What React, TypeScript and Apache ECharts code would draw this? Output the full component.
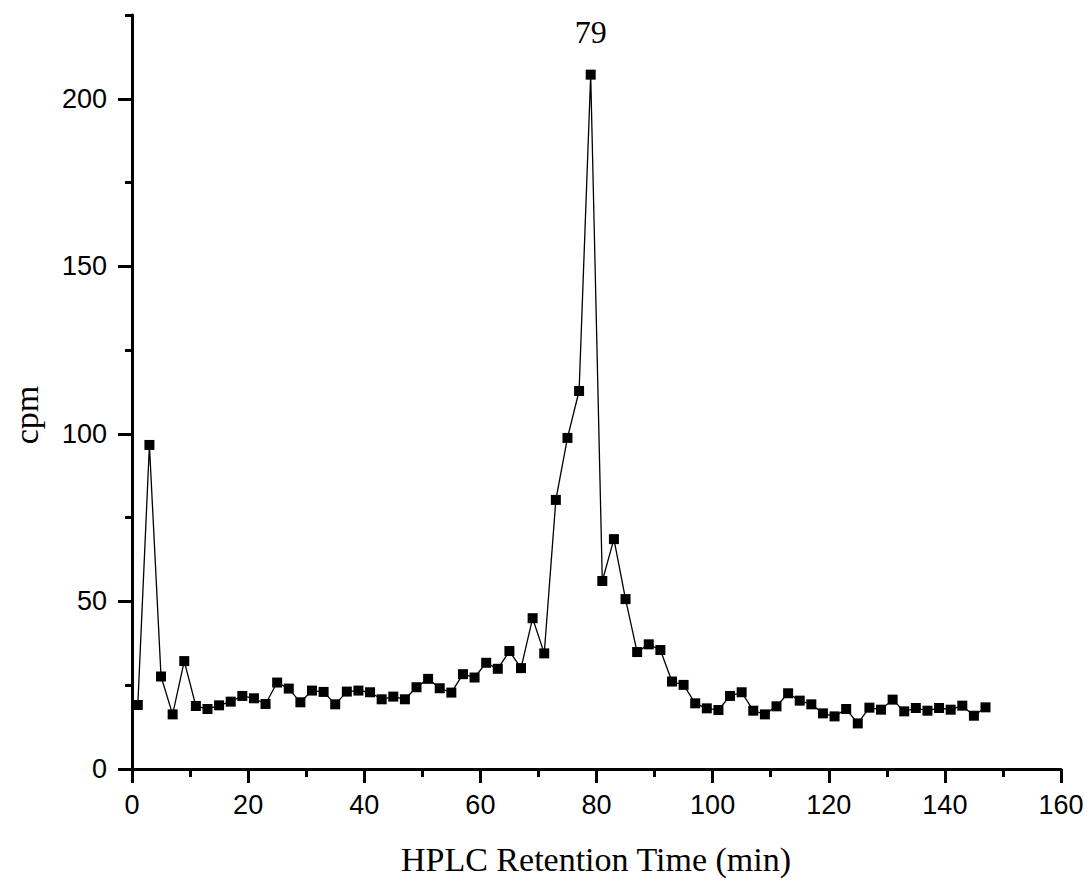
import React, { useEffect, useRef } from "react";
import * as echarts from "echarts";

const times = [
  1, 3, 5, 7, 9, 11, 13, 15, 17, 19, 21, 23, 25, 27, 29, 31, 33, 35, 37, 39,
  41, 43, 45, 47, 49, 51, 53, 55, 57, 59, 61, 63, 65, 67, 69, 71, 73, 75, 77, 79,
  81, 83, 85, 87, 89, 91, 93, 95, 97, 99, 101, 103, 105, 107, 109, 111, 113, 115, 117, 119,
  121, 123, 125, 127, 129, 131, 133, 135, 137, 139, 141, 143, 145, 147,
];

const cpm = [
  19.1, 96.7, 27.6, 16.3, 32.2, 18.8, 17.9, 19.0, 20.1, 21.8, 21.1, 19.4, 25.8, 24.0, 19.9, 23.4, 23.0, 19.3, 23.1, 23.4,
  22.9, 20.8, 21.6, 20.8, 24.4, 26.9, 24.1, 22.8, 28.3, 27.3, 31.7, 29.9, 35.2, 30.1, 45.0, 34.5, 80.3, 98.8, 112.8, 207.2,
  56.1, 68.6, 50.7, 34.9, 37.2, 35.5, 26.1, 25.1, 19.6, 18.1, 17.6, 21.8, 22.9, 17.4, 16.3, 18.7, 22.6, 20.4, 19.3, 16.6,
  15.7, 17.9, 13.6, 18.3, 17.7, 20.7, 17.2, 18.2, 17.4, 18.2, 17.7, 18.9, 15.9, 18.4,
];

const xMax = 160;
const xStep = 20;
const yMax = 225;
const yLabelMax = 200;
const yStep = 50;
const yMinorStep = 25;
const peakTime = 79;

const xTitle = "HPLC Retention Time (min)";
const yTitle = "cpm";

export default function App() {
  const ref = useRef<HTMLDivElement>(null);

  useEffect(() => {
    if (!ref.current) return;
    const chart = echarts.init(ref.current, null, { renderer: "svg" });

    const data = times.map((t, i) => {
      if (t === peakTime) {
        return {
          value: [t, cpm[i]],
          label: {
            show: true,
            position: "top",
            distance: 22,
            formatter: String(t),
            fontFamily: "Liberation Serif",
            fontSize: 32,
            color: "#000",
          },
        };
      }
      return [t, cpm[i]];
    });

    const sansLabel = {
      fontFamily: "Liberation Sans",
      fontSize: 27,
      color: "#000",
    };

    const top = 15;
    const bottom = 113;
    const plotH = 882 - top - bottom;
    const top2 = top + ((yMax - yLabelMax) / yMax) * plotH;

    chart.setOption({
      animation: false,
      backgroundColor: "#fff",
      grid: [
        { left: 132, right: 31, top, bottom, containLabel: false },
        { left: 132, right: 31, top: top2, bottom, containLabel: false },
      ],
      xAxis: [
        {
          type: "value",
          gridIndex: 0,
          min: 0,
          max: xMax,
          interval: xStep,
          position: "bottom",
          axisLine: { show: true, onZero: false, lineStyle: { color: "#000", width: 3 } },
          axisTick: { show: true, length: 14, lineStyle: { color: "#000", width: 3 } },
          minorTick: { show: true, splitNumber: 2, length: 8, lineStyle: { color: "#000", width: 3 } },
          splitLine: { show: false },
          minorSplitLine: { show: false },
          axisLabel: { ...sansLabel, margin: 22 },
        },
        {
          type: "value",
          gridIndex: 1,
          min: 0,
          max: xMax,
          show: false,
        },
      ],
      yAxis: [
        {
          type: "value",
          gridIndex: 0,
          min: 0,
          max: yMax,
          interval: yMinorStep,
          position: "left",
          axisLine: { show: true, onZero: false, lineStyle: { color: "#000", width: 3 } },
          axisTick: { show: true, length: 7, lineStyle: { color: "#000", width: 3 } },
          splitLine: { show: false },
          axisLabel: { show: false },
        },
        {
          type: "value",
          gridIndex: 1,
          min: 0,
          max: yLabelMax,
          interval: yStep,
          position: "left",
          axisLine: { show: false },
          axisTick: { show: true, length: 14, lineStyle: { color: "#000", width: 3 } },
          splitLine: { show: false },
          axisLabel: { ...sansLabel, margin: 25 },
        },
      ],
      graphic: [
        {
          type: "text",
          x: 596,
          y: 842,
          style: {
            text: xTitle,
            fontFamily: "Liberation Serif",
            fontSize: 34,
            fill: "#000",
            align: "center",
            verticalAlign: "top",
          },
        },
        {
          type: "text",
          x: 26,
          y: 415,
          rotation: Math.PI / 2,
          style: {
            text: yTitle,
            fontFamily: "Liberation Serif",
            fontSize: 34,
            fill: "#000",
            align: "center",
            verticalAlign: "middle",
          },
        },
      ],
      series: [
        {
          type: "line",
          xAxisIndex: 0,
          yAxisIndex: 0,
          data,
          symbol: "rect",
          symbolSize: 10,
          showAllSymbol: true,
          lineStyle: { color: "#000", width: 1.3 },
          itemStyle: { color: "#000" },
        },
      ],
    });

    return () => chart.dispose();
  }, []);

  return (
    <div
      ref={ref}
      style={{ position: "fixed", left: 0, top: 0, width: 1092, height: 882, background: "#fff" }}
    />
  );
}
